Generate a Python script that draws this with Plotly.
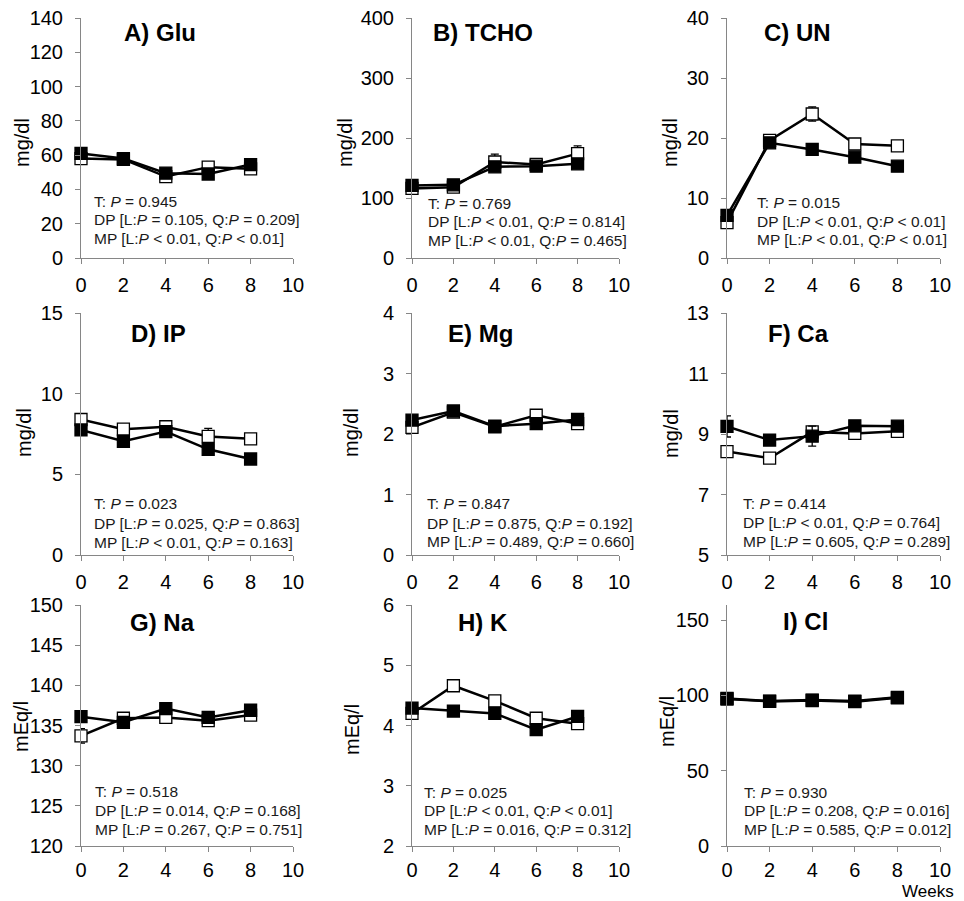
import plotly.graph_objects as go

# ---------------- data ----------------
weeks = [0, 2, 4, 6, 8]

panel_titles = ["A) Glu", "B) TCHO", "C) UN", "D) IP", "E) Mg", "F) Ca", "G) Na", "H) K", "I) Cl"]
units = ["mg/dl", "mg/dl", "mg/dl", "mg/dl", "mg/dl", "mg/dl", "mEq/l", "mEq/l", "mEq/l"]

# open squares (first series) and filled squares (second series)
glu_open = [58, 57.5, 47.5, 53, 52]
glu_fill = [61, 58, 49.5, 49, 54.5]
tcho_open = [116, 118, 160, 156, 174]
tcho_fill = [121, 122, 152, 153, 157]
un_open = [5.9, 19.6, 24.0, 19.0, 18.7]
un_fill = [7.1, 19.2, 18.1, 16.8, 15.3]
ip_open = [8.4, 7.8, 7.95, 7.35, 7.2]
ip_fill = [7.75, 7.05, 7.65, 6.55, 5.95]
mg_open = [2.11, 2.36, 2.12, 2.31, 2.17]
mg_fill = [2.23, 2.38, 2.13, 2.17, 2.24]
ca_open = [8.42, 8.2, 9.07, 9.02, 9.09]
ca_fill = [9.25, 8.8, 8.93, 9.27, 9.26]
na_open = [133.7, 135.9, 136.0, 135.6, 136.3]
na_fill = [136.1, 135.4, 137.1, 136.0, 136.9]
k_open = [4.2, 4.66, 4.41, 4.12, 4.03]
k_fill = [4.29, 4.24, 4.2, 3.93, 4.15]
cl_open = [97.6, 96.0, 96.6, 95.8, 98.4]
cl_fill = [98.0, 96.2, 96.9, 96.2, 98.7]

# standard errors
glu_open_se = [1.5, 1.0, 1.5, 1.5, 1.5]
glu_fill_se = [1.5, 1.0, 1.5, 1.5, 1.5]
tcho_open_se = [4, 4, 13, 6, 13]
tcho_fill_se = [4, 4, 5, 5, 5]
un_open_se = [0.4, 0.6, 1.2, 0.8, 0.5]
un_fill_se = [0.4, 0.5, 0.5, 0.5, 0.4]
ip_open_se = [0.2, 0.2, 0.2, 0.5, 0.3]
ip_fill_se = [0.2, 0.2, 0.2, 0.2, 0.15]
mg_open_se = [0.05, 0.05, 0.05, 0.05, 0.05]
mg_fill_se = [0.05, 0.05, 0.05, 0.05, 0.05]
ca_open_se = [0.15, 0.15, 0.15, 0.12, 0.12]
ca_fill_se = [0.35, 0.15, 0.33, 0.12, 0.12]
na_open_se = [0.9, 0.4, 0.4, 0.4, 0.4]
na_fill_se = [0.4, 0.4, 0.4, 0.4, 0.4]
k_open_se = [0.05, 0.05, 0.05, 0.05, 0.05]
k_fill_se = [0.05, 0.05, 0.05, 0.05, 0.05]
cl_open_se = [1.0, 1.0, 1.0, 1.0, 1.0]
cl_fill_se = [1.0, 1.0, 1.0, 1.0, 1.0]

stats_text = [
    ["T: <i>P</i> = 0.945", "DP [L:<i>P</i> = 0.105, Q:<i>P</i> = 0.209]", "MP [L:<i>P</i> < 0.01, Q:<i>P</i> < 0.01]"],
    ["T: <i>P</i> = 0.769", "DP [L:<i>P</i> < 0.01, Q:<i>P</i> = 0.814]", "MP [L:<i>P</i> < 0.01, Q:<i>P</i> = 0.465]"],
    ["T: <i>P</i> = 0.015", "DP [L:<i>P</i> < 0.01, Q:<i>P</i> < 0.01]", "MP [L:<i>P</i> < 0.01, Q:<i>P</i> < 0.01]"],
    ["T: <i>P</i> = 0.023", "DP [L:<i>P</i> = 0.025, Q:<i>P</i> = 0.863]", "MP [L:<i>P</i> < 0.01, Q:<i>P</i> = 0.163]"],
    ["T: <i>P</i> = 0.847", "DP [L:<i>P</i> = 0.875, Q:<i>P</i> = 0.192]", "MP [L:<i>P</i> = 0.489, Q:<i>P</i> = 0.660]"],
    ["T: <i>P</i> = 0.414", "DP [L:<i>P</i> < 0.01, Q:<i>P</i> = 0.764]", "MP [L:<i>P</i> = 0.605, Q:<i>P</i> = 0.289]"],
    ["T: <i>P</i> = 0.518", "DP [L:<i>P</i> = 0.014, Q:<i>P</i> = 0.168]", "MP [L:<i>P</i> = 0.267, Q:<i>P</i> = 0.751]"],
    ["T: <i>P</i> = 0.025", "DP [L:<i>P</i> < 0.01, Q:<i>P</i> < 0.01]", "MP [L:<i>P</i> = 0.016, Q:<i>P</i> = 0.312]"],
    ["T: <i>P</i> = 0.930", "DP [L:<i>P</i> = 0.208, Q:<i>P</i> = 0.016]", "MP [L:<i>P</i> = 0.585, Q:<i>P</i> = 0.012]"],
]

y_ranges = [[0, 140], [0, 400], [0, 40], [0, 15], [0, 4], [5, 13], [120, 150], [2, 6], [0, 160]]
y_ticks = [[0, 20, 40, 60, 80, 100, 120, 140], [0, 100, 200, 300, 400], [0, 10, 20, 30, 40],
           [0, 5, 10, 15], [0, 1, 2, 3, 4], [5, 7, 9, 11, 13], [120, 125, 130, 135, 140, 145, 150],
           [2, 3, 4, 5, 6], [0, 50, 100, 150]]
x_ticks = [0, 2, 4, 6, 8, 10]

open_series = [glu_open, tcho_open, un_open, ip_open, mg_open, ca_open, na_open, k_open, cl_open]
fill_series = [glu_fill, tcho_fill, un_fill, ip_fill, mg_fill, ca_fill, na_fill, k_fill, cl_fill]
open_se = [glu_open_se, tcho_open_se, un_open_se, ip_open_se, mg_open_se, ca_open_se, na_open_se, k_open_se, cl_open_se]
fill_se = [glu_fill_se, tcho_fill_se, un_fill_se, ip_fill_se, mg_fill_se, ca_fill_se, na_fill_se, k_fill_se, cl_fill_se]

# ---------------- layout geometry (pixels) ----------------
W, H = 964, 901
col_px = [(81, 293), (412, 619), (727, 940)]
row_px = [(18, 258), (313, 555), (605, 846)]
row_x_standoff = [4, 4, 1]
title_pos = [(160, 33), (483, 33), (797, 33), (158, 333), (480, 333), (798, 333), (162, 622), (483, 622), (805, 621)]
ytitle_pos = [(22, 143), (345, 143), (670, 143), (24, 433), (351, 433), (671, 434), (21, 727), (352, 730), (667, 722)]
stats_pos = [(92, [201, 220, 239]), (426, [204, 222, 241]), (755, [203, 222, 240]),
             (92, [503, 523, 542]), (425, [503, 523, 541]), (741, [503, 522, 541]),
             (93, [791, 810, 829]), (422, [792, 810, 829]), (742, [792, 810, 829])]

FONT = "Liberation Sans, Arial, sans-serif"
AXIS_GRAY = "#868686"

def px_x(p):
    return p / W

def px_y(p):
    return 1 - p / H

fig = go.Figure()
annotations = []
layout_axes = {}

for i in range(9):
    r, c = divmod(i, 3)
    n = "" if i == 0 else str(i + 1)
    xa, ya = "x" + n, "y" + n
    for vals, se, fill, name in [(open_series[i], open_se[i], "white", "open"),
                                  (fill_series[i], fill_se[i], "black", "filled")]:
        fig.add_trace(go.Scatter(
            x=weeks, y=vals, xaxis=xa, yaxis=ya, mode="lines+markers", name=name,
            line=dict(color="black", width=2.5),
            marker=dict(symbol="square", size=12, color=fill, line=dict(color="black", width=1.3)),
            error_y=dict(type="data", array=se, visible=True, color="black", thickness=1.3, width=4),
            cliponaxis=False, showlegend=False,
        ))
    x0, x1 = col_px[c]
    y0, y1 = row_px[r]
    layout_axes["xaxis" + n] = dict(
        domain=[px_x(x0), px_x(x1)], anchor=ya, range=[0, 10], tickvals=x_ticks,
        showline=True, linecolor=AXIS_GRAY, linewidth=1, ticks="outside", ticklen=5,
        tickcolor=AXIS_GRAY, showgrid=False, zeroline=False, automargin=False,
        tickfont=dict(family=FONT, size=20, color="black"), ticklabelstandoff=row_x_standoff[r],
    )
    layout_axes["yaxis" + n] = dict(
        domain=[px_y(y1), px_y(y0)], anchor=xa, range=y_ranges[i], tickvals=y_ticks[i],
        showline=True, linecolor=AXIS_GRAY, linewidth=1, ticks="outside", ticklen=5,
        tickcolor=AXIS_GRAY, showgrid=False, zeroline=False, automargin=False,
        tickfont=dict(family=FONT, size=20, color="black"), ticklabelstandoff=8,
    )
    tx, ty = title_pos[i]
    annotations.append(dict(x=px_x(tx), y=px_y(ty), xref="paper", yref="paper", text="<b>" + panel_titles[i] + "</b>",
                            showarrow=False, xanchor="center", yanchor="middle",
                            font=dict(family=FONT, size=24, color="black")))
    ux, uy = ytitle_pos[i]
    annotations.append(dict(x=px_x(ux), y=px_y(uy), xref="paper", yref="paper", text=units[i], textangle=-90,
                            showarrow=False, xanchor="center", yanchor="middle",
                            font=dict(family=FONT, size=20, color="black")))
    sx, sys_ = stats_pos[i]
    for line_txt, ly in zip(stats_text[i], sys_):
        annotations.append(dict(x=px_x(sx), y=px_y(ly), xref="paper", yref="paper", text=line_txt,
                                showarrow=False, xanchor="left", yanchor="middle",
                                font=dict(family=FONT, size=15.5, color="#1a1a1a")))

annotations.append(dict(x=px_x(928), y=px_y(891), xref="paper", yref="paper", text="Weeks",
                        showarrow=False, xanchor="center", yanchor="middle",
                        font=dict(family=FONT, size=17, color="black")))

fig.update_layout(
    width=W, height=H, margin=dict(l=0, r=0, t=0, b=0, autoexpand=False),
    paper_bgcolor="white", plot_bgcolor="white",
    showlegend=False, annotations=annotations, **layout_axes,
)

fig.write_html("out.html", config={"displayModeBar": False},
               post_script="document.body.style.margin='0';document.body.style.overflow='hidden';")
